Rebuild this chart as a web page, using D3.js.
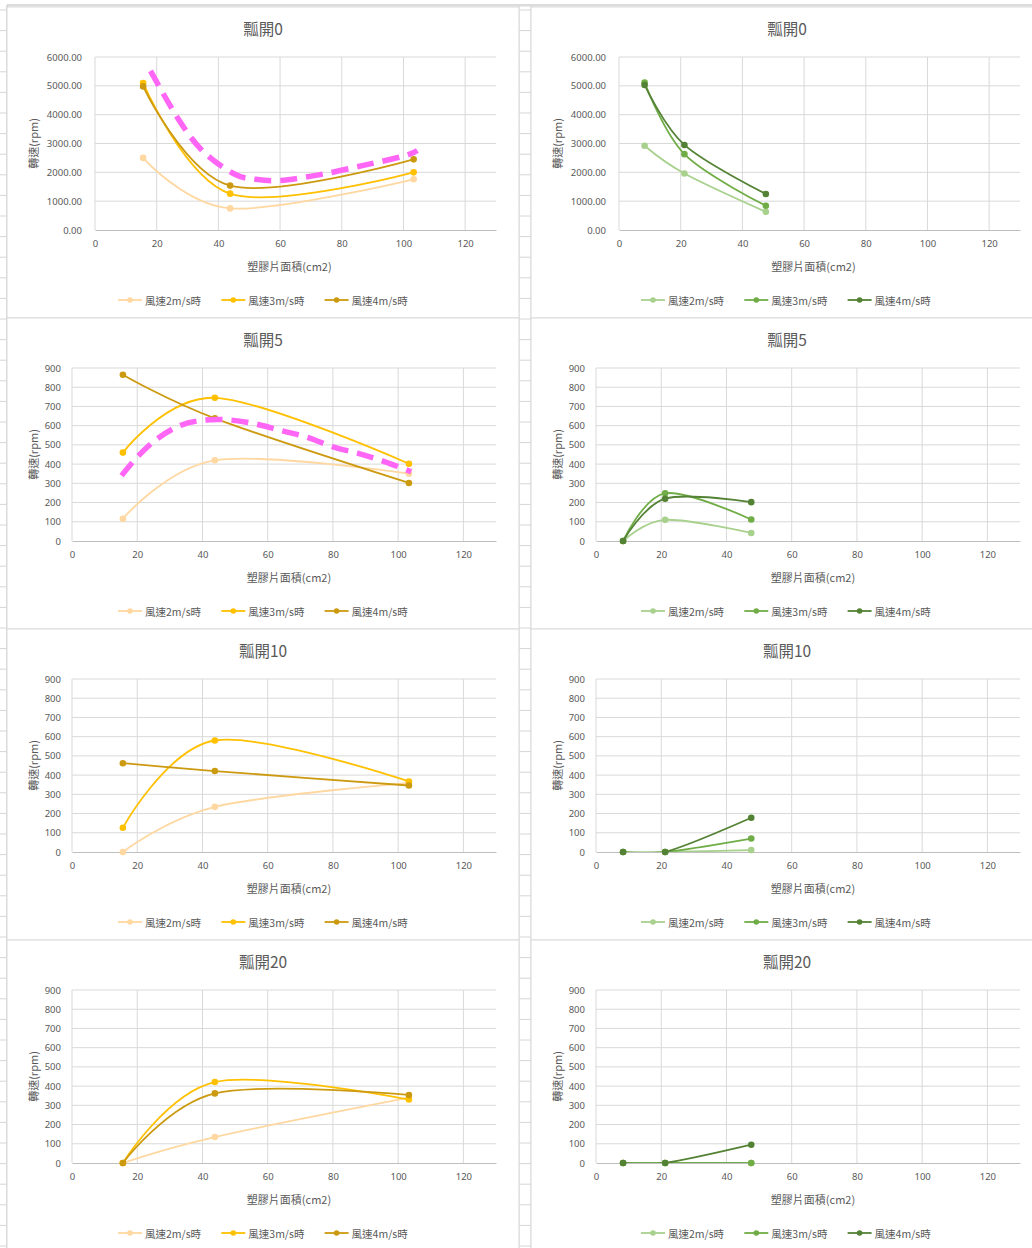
<!DOCTYPE html>
<html><head><meta charset="utf-8">
<script src="https://cdn.jsdelivr.net/npm/d3@7"></script>
<style>
html,body{margin:0;padding:0;background:#fff;}
svg{display:block;font-family:"Noto Sans CJK TC","Noto Sans",sans-serif;}
</style></head>
<body>
<svg id="c" width="1032" height="1248"></svg>
<script>
// ---------- data ----------
const openings = ["0", "5", "10", "20"];
const titlePrefix = "瓢開";
const speedLabels = ["風速2m/s時", "風速3m/s時", "風速4m/s時"];
const xAxisTitle = "塑膠片面積(cm2)";
const yAxisTitle = "轉速(rpm)";
const xTicks = [0, 20, 40, 60, 80, 100, 120];
const yMaxByRow = [6000, 900, 900, 900];
const yStepByRow = [1000, 100, 100, 100];

const areaLeft = [15.6, 43.8, 103.3];
const areaRight = [8.3, 21.2, 47.6];

// left column (yellow)
const left0_2 = [2500, 750, 1760], left0_3 = [5100, 1260, 2000], left0_4 = [4980, 1540, 2450];
const left5_2 = [116, 420, 350], left5_3 = [460, 745, 402], left5_4 = [865, 638, 302];
const left10_2 = [0, 235, 360], left10_3 = [126, 580, 367], left10_4 = [462, 421, 346];
const left20_2 = [0, 135, 340], left20_3 = [0, 421, 330], left20_4 = [0, 362, 354];
// right column (green)
const right0_2 = [2920, 1960, 630], right0_3 = [5110, 2630, 840], right0_4 = [5030, 2950, 1250];
const right5_2 = [0, 110, 42], right5_3 = [0, 248, 112], right5_4 = [0, 220, 202];
const right10_2 = [0, 0, 10], right10_3 = [0, 0, 70], right10_4 = [0, 0, 178];
const right20_2 = [0, 0, 0], right20_3 = [0, 0, 0], right20_4 = [0, 0, 95];

// hand-drawn magenta trend annotations
const trend0X = [18, 27, 35, 45, 52, 60, 73, 87, 100, 104.5];
const trend0Y = [5520, 3850, 2730, 1950, 1760, 1720, 1920, 2240, 2560, 2760];
const trend5X = [15.2, 20, 26, 33, 40, 48, 56, 64, 72, 80, 88, 96, 104];
const trend5Y = [340, 437, 530, 600, 628, 630, 610, 575, 540, 490, 455, 412, 360];

const yellowColors = ["#FFD7A0", "#FFC000", "#CC9A10"];
const greenColors = ["#A9D18E", "#70AD47", "#548235"];

// ---------- build ----------
const leftSeries = [[left0_2, left0_3, left0_4], [left5_2, left5_3, left5_4], [left10_2, left10_3, left10_4], [left20_2, left20_3, left20_4]];
const rightSeries = [[right0_2, right0_3, right0_4], [right5_2, right5_3, right5_4], [right10_2, right10_3, right10_4], [right20_2, right20_3, right20_4]];
const trends = [{x: trend0X, y: trend0Y}, {x: trend5X, y: trend5Y}, null, null];

const svg = d3.select("#c");
svg.append("rect").attr("width", 1032).attr("height", 1248).attr("fill", "#fff");
const defs = svg.append("defs");

// spreadsheet background bits
const bg = svg.append("g");
bg.append("rect").attr("x", 7).attr("y", 4).attr("width", 1025).attr("height", 2.5).attr("fill", "#dcdcdc");
bg.append("line").attr("x1", 7).attr("x2", 7).attr("y1", 5).attr("y2", 1248).attr("stroke", "#d0d0d0").attr("stroke-width", 1.5);
const rowYs = d3.range(10, 1248, 20.6);
bg.selectAll("line.rl").data(rowYs).join("line").attr("class", "rl")
  .attr("x1", 0).attr("x2", 6).attr("y1", d => d).attr("y2", d => d).attr("stroke", "#d6d6d6");
bg.selectAll("line.rm").data(rowYs).join("line").attr("class", "rm")
  .attr("x1", 519).attr("x2", 531).attr("y1", d => d).attr("y2", d => d).attr("stroke", "#d6d6d6");
bg.append("line").attr("x1", 519).attr("x2", 519).attr("y1", 5).attr("y2", 1248).attr("stroke", "#d6d6d6");
bg.append("line").attr("x1", 531).attr("x2", 531).attr("y1", 5).attr("y2", 1248).attr("stroke", "#d6d6d6");

const panelTops = [7, 318, 629, 940];
const PANEL_H = 311, PANEL_W = 512;
const txtColor = "#595959";
let clipId = 0;

function drawPanel(px, py, row, series, xs, colors, trend) {
  const g = svg.append("g").attr("transform", `translate(${px},${py})`);
  g.append("rect").attr("x", 0).attr("y", 0).attr("width", PANEL_W).attr("height", PANEL_H)
    .attr("fill", "#fff").attr("stroke", "#d9d9d9").attr("stroke-width", 1);
  const plotL = row === 0 ? 88 : 65, plotR = 489, plotT = 50, plotB = 223;
  const x = d3.scaleLinear().domain([0, 130]).range([plotL, plotR]);
  const yMax = yMaxByRow[row];
  const y = d3.scaleLinear().domain([0, yMax]).range([plotB, plotT]);
  const yTicks = d3.range(0, yMax + 1, yStepByRow[row]);
  const fmt = row === 0 ? d3.format(".2f") : d3.format("d");

  const cid = "clip" + (clipId++);
  defs.append("clipPath").attr("id", cid).append("rect")
    .attr("x", plotL - 10).attr("y", plotT - 20).attr("width", plotR - plotL + 20).attr("height", plotB - plotT + 20);

  // title
  g.append("text").attr("x", PANEL_W / 2).attr("y", 21).attr("text-anchor", "middle")
    .attr("dominant-baseline", "central").attr("font-size", 15.5).attr("fill", txtColor)
    .text(titlePrefix + openings[row]);

  // gridlines
  g.append("g").selectAll("line").data(yTicks.filter(d => d > 0)).join("line")
    .attr("x1", plotL).attr("x2", plotR).attr("y1", d => y(d)).attr("y2", d => y(d))
    .attr("stroke", "#d9d9d9").attr("stroke-width", 1);
  g.append("g").selectAll("line").data(xTicks).join("line")
    .attr("x1", d => x(d)).attr("x2", d => x(d)).attr("y1", plotT).attr("y2", plotB)
    .attr("stroke", "#d9d9d9").attr("stroke-width", 1);

  // axes
  const xAxis = g.append("g").attr("transform", `translate(0,${plotB})`)
    .call(d3.axisBottom(x).tickValues(xTicks).tickSize(0).tickPadding(10));
  xAxis.select(".domain").attr("stroke", "#bfbfbf").attr("stroke-width", 1.2);
  xAxis.selectAll("text").attr("fill", txtColor).attr("font-size", 9.5).attr("font-family", "'Noto Sans',sans-serif");
  const yAxis = g.append("g").attr("transform", `translate(${plotL},0)`)
    .call(d3.axisLeft(y).tickValues(yTicks).tickFormat(fmt).tickSize(0).tickPadding(row === 0 ? 13 : 11));
  yAxis.select(".domain").remove();
  yAxis.selectAll("text").attr("fill", txtColor).attr("font-size", 9.5).attr("font-family", "'Noto Sans',sans-serif");

  // axis titles
  g.append("text").attr("x", (plotL + plotR) / 2 + (row === 0 ? -6 : 5)).attr("y", plotB + 36)
    .attr("text-anchor", "middle").attr("dominant-baseline", "central")
    .attr("font-size", 11).attr("fill", txtColor).text(xAxisTitle);
  g.append("text").attr("transform", `translate(26,${(plotT + plotB) / 2}) rotate(-90)`)
    .attr("text-anchor", "middle").attr("dominant-baseline", "central")
    .attr("font-size", 11).attr("fill", txtColor).text(yAxisTitle);

  // series
  const line = d3.line().x(d => x(d[0])).y(d => y(d[1])).curve(d3.curveCatmullRom.alpha(0));
  series.forEach((vals, i) => {
    const pts = xs.map((xv, j) => [xv, vals[j]]);
    g.append("path").datum(pts).attr("d", line).attr("fill", "none")
      .attr("clip-path", `url(#${cid})`)
      .attr("stroke", colors[i]).attr("stroke-width", 1.8);
    g.append("g").selectAll("circle").data(pts).join("circle")
      .attr("cx", d => x(d[0])).attr("cy", d => y(d[1])).attr("r", 3.3).attr("fill", colors[i]);
  });

  if (trend) {
    const tpts = trend.x.map((xv, j) => [xv, trend.y[j]]);
    g.append("path").datum(tpts).attr("d", line).attr("fill", "none")
      .attr("stroke", "#FF66F5").attr("stroke-width", 5.5).attr("stroke-dasharray", "17,9");
  }

  // legend
  const lg = g.append("g").attr("transform", `translate(${px < 100 ? 111 : 110},${293})`);
  speedLabels.forEach((lab, i) => {
    const it = lg.append("g").attr("transform", `translate(${i * 103.3},0)`);
    it.append("line").attr("x1", 0).attr("x2", 24).attr("y1", 0).attr("y2", 0)
      .attr("stroke", colors[i]).attr("stroke-width", 1.8);
    it.append("circle").attr("cx", 12).attr("cy", 0).attr("r", 2.8).attr("fill", colors[i]);
    it.append("text").attr("x", 27).attr("y", 0).attr("dominant-baseline", "central")
      .attr("font-size", 10.5).attr("fill", txtColor).text(lab);
  });
}

panelTops.forEach((py, row) => {
  drawPanel(7, py, row, leftSeries[row], areaLeft, yellowColors, trends[row]);
  drawPanel(531, py, row, rightSeries[row], areaRight, greenColors, null);
});
</script>
</body></html>
